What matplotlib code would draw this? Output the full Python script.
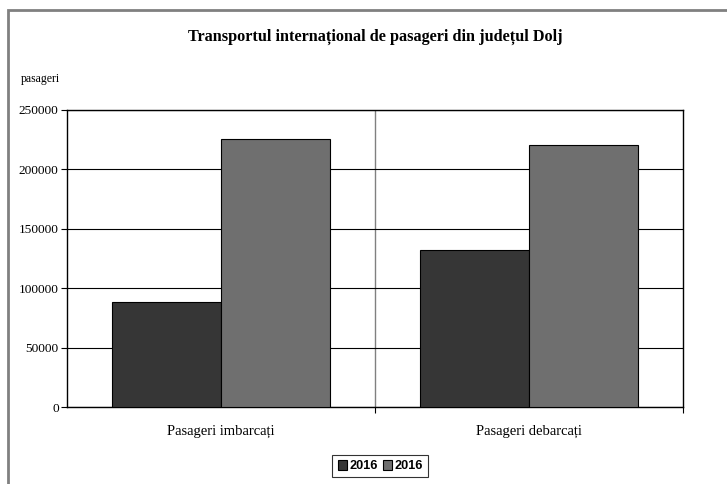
import matplotlib

matplotlib.use("Agg")
import matplotlib.pyplot as plt  # noqa: E402
import numpy as np  # noqa: E402
from matplotlib.patches import Rectangle  # noqa: E402

categories = ["Pasageri imbarcați", "Pasageri debarcați"]
series_labels = ["2016", "2016"]
series_a = [88000, 132000]
series_b = [226000, 220600]
yticks = [0, 50000, 100000, 150000, 200000, 250000]

DARK, GRAY = "#363636", "#6f6f6f"
SERIF = ["Liberation Serif", "DejaVu Serif"]
SANS = ["Liberation Sans", "DejaVu Sans"]

fig = plt.figure(figsize=(7.27, 4.84), dpi=100)
fig.patch.set_facecolor("white")

# outer chart frame (runs off the right/bottom edges)
fig.add_artist(Rectangle((8 / 727, -0.05), 1.1, 1 - 10 / 484 + 0.05,
                         transform=fig.transFigure, fill=False,
                         edgecolor="#808080", lw=2))

ax = fig.add_axes([67 / 727, 1 - 407 / 484, 616 / 727, 297 / 484])
x = np.arange(len(categories))
w = 0.355
ax.bar(x - w / 2, series_a, w, color=DARK, edgecolor="black", lw=0.8,
       label=series_labels[0], zorder=3)
ax.bar(x + w / 2, series_b, w, color=GRAY, edgecolor="black", lw=0.8,
       label=series_labels[1], zorder=3)

ax.set_xlim(-0.5, len(categories) - 0.5)
ax.set_ylim(0, 250000)
ax.set_yticks(yticks)
ax.set_yticklabels([str(v) for v in yticks], family=SERIF, fontsize=9.6)
ax.yaxis.grid(True, color="black", lw=0.8, zorder=1)
ax.axvline(0.5, color="#808080", lw=1, zorder=1)

ax.set_xticks([0.5, 1.5])
ax.set_xticklabels([])
ax.set_xticks(x, minor=True)
ax.set_xticklabels(categories, minor=True, family=SERIF, fontsize=10.5)
ax.tick_params(axis="x", which="minor", length=0, pad=13)
ax.tick_params(axis="x", which="major", length=4, width=0.8)
ax.tick_params(axis="y", length=4, width=0.8, pad=2)
for s in ax.spines.values():
    s.set_color("black")
    s.set_linewidth(1)

fig.text(21 / 727, 1 - 79 / 484, "pasageri", family=SERIF, fontsize=8.5,
         va="center", ha="left")
fig.text(375 / 727, 1 - 37 / 484,
         "Transportul internațional de pasageri din județul Dolj",
         family=SERIF, fontsize=11.7, fontweight="bold", ha="center",
         va="center")

leg = ax.legend(loc="center", bbox_to_anchor=(380 / 727, 1 - 466 / 484),
                bbox_transform=fig.transFigure, ncol=2, frameon=True,
                fancybox=False, edgecolor="black", handlelength=0.7,
                handleheight=0.9, handletextpad=0.2, columnspacing=0.4,
                borderpad=0.4, prop={"family": SANS, "weight": "bold",
                                     "size": 9.2})
leg.get_frame().set_linewidth(0.8)

fig.savefig("out.png", dpi=100)
